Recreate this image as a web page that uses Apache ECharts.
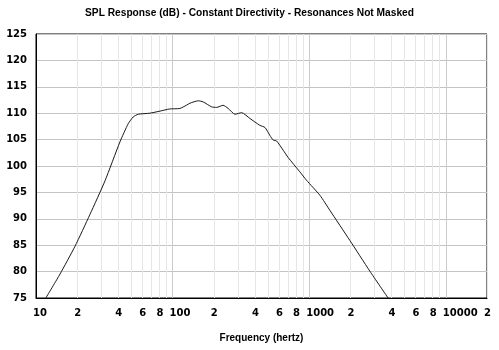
<!DOCTYPE html>
<html>
<head>
<meta charset="utf-8">
<script src="https://cdn.jsdelivr.net/npm/echarts@6/dist/echarts.min.js"></script>
<style>
html,body{margin:0;padding:0;background:#fff;}
#chart{width:499px;height:350px;}
</style>
</head>
<body>
<div id="chart"></div>
<script>
// Frequency (Hz) and SPL (dB)
const freqs = [11.8, 15.0, 19.3, 24.8, 32.0, 41.2, 47.3, 51.5, 56, 68, 81, 95, 113, 126, 134, 154, 167, 193, 210, 234, 255, 286, 320, 368, 435, 474, 515, 545, 576, 644, 701, 853, 955, 1197, 1416, 1983, 2774, 3776];
const spl = [75, 79.55, 84.8, 90.8, 97.2, 104.6, 108.0, 109.3, 109.8, 110.0, 110.4, 110.8, 110.9, 111.5, 111.9, 112.35, 112.15, 111.2, 111.1, 111.5, 110.9, 109.8, 110.1, 109.0, 107.7, 107.3, 105.8, 104.9, 104.75, 103.0, 101.6, 98.9, 97.3, 94.45, 91.6, 85.9, 80.1, 75];
// grid frequencies (1..9 per decade) and labelled frequencies
const gridFreqs = [10,20,30,40,50,60,70,80,90,100,200,300,400,500,600,700,800,900,1000,2000,3000,4000,5000,6000,7000,8000,9000,10000,20000];
const labelFreqs = [10,20,40,60,80,100,200,400,600,800,1000,2000,4000,6000,8000,10000,20000];
const yMin = 75, yMax = 125, yStep = 5;
const title = 'SPL Response (dB) - Constant Directivity - Resonances Not Masked';
const xName = 'Frequency (hertz)';

const FONT = 'Liberation Sans';
const TICKFONT = 'DejaVu Sans';
const chart = echarts.init(document.getElementById('chart'), null, {renderer: 'canvas'});
const dataPts = freqs.map((f, i) => [f, spl[i]]);
const vColors = ['#cccccc','#e6e6e6','#e6e6e6','#e6e6e6','#e6e6e6','#e6e6e6','#e6e6e6','#e6e6e6','#e6e6e6'];
chart.setOption({
  animation: false,
  backgroundColor: '#ffffff',
  title: {
    text: title, left: 'center', top: 3,
    textStyle: {fontFamily: FONT, fontSize: 10.2, fontWeight: 'bold', color: '#000'}
  },
  grid: {left: 36, right: 12, top: 34, bottom: 52, show: true, borderColor: '#000', borderWidth: 1, outerBoundsMode: 'none', containLabel: false},
  xAxis: {
    type: 'log', logBase: 10, min: 10, max: 20000,
    name: xName, nameLocation: 'middle', nameGap: 35,
    nameTextStyle: {fontFamily: FONT, fontSize: 10, fontWeight: 'bold', color: '#000'},
    axisLine: {show: true, lineStyle: {color: '#000', width: 1}},
    axisTick: {show: false, customValues: gridFreqs},
    splitLine: {show: true, lineStyle: {color: vColors, width: 1}},
    axisLabel: {
      customValues: labelFreqs, interval: 0, hideOverlap: false,
      margin: 10, align: 'left', padding: [0, 0, 0, -3],
      fontFamily: TICKFONT, fontSize: 10, fontWeight: 'bold', color: '#000',
      formatter: function (v) {
        const lg = Math.log10(v);
        if (Math.abs(lg - Math.round(lg)) < 1e-6) return String(Math.round(v));
        return String(Math.round(v / Math.pow(10, Math.floor(lg + 1e-9))));
      }
    }
  },
  yAxis: {
    type: 'value', min: yMin, max: yMax, interval: yStep,
    axisLine: {show: true, lineStyle: {color: '#000', width: 1}},
    axisTick: {show: false},
    splitLine: {show: true, lineStyle: {color: '#c4c4c4', width: 1}},
    axisLabel: {margin: 9, fontFamily: TICKFONT, fontSize: 10, fontWeight: 'bold', color: '#000'}
  },
  series: [{
    type: 'line', data: dataPts, smooth: 0.2, symbol: 'none',
    lineStyle: {color: '#1a1a1a', width: 1}
  }]
});
</script>
</body>
</html>
